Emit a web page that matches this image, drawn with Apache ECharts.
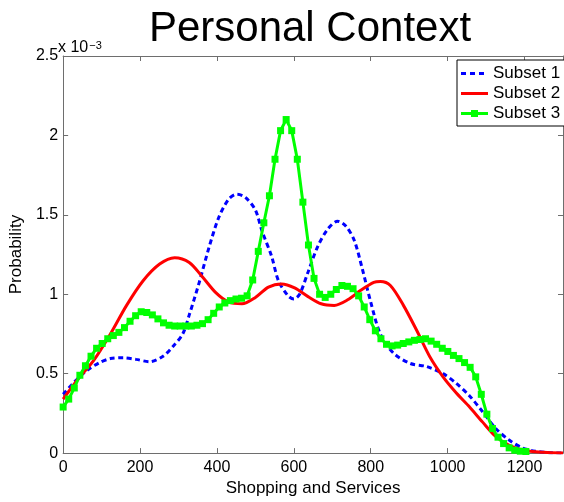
<!DOCTYPE html>
<html>
<head>
<meta charset="utf-8">
<script src="https://cdn.jsdelivr.net/npm/echarts@6/dist/echarts.min.js"></script>
<style>
html,body{margin:0;padding:0;background:#fff;}
#chart{width:564px;height:502px;}
</style>
</head>
<body>
<div id="chart"></div>
<script>
// ---- Data (y values in units of 10^-3) ----
const subset1X = [0, 30, 62, 95, 123, 157, 190, 225, 260, 285, 311, 328, 354, 380, 405, 431, 452, 474, 500, 517, 542, 560, 585, 600, 615, 637, 662, 688, 714, 735, 757, 778, 800, 825, 859, 902, 945, 988, 1022, 1057, 1091, 1125, 1159, 1194, 1228, 1260, 1300];
const subset1Y = [0.37, 0.45, 0.52, 0.57, 0.595, 0.60, 0.59, 0.575, 0.61, 0.67, 0.75, 0.87, 1.075, 1.30, 1.485, 1.60, 1.63, 1.61, 1.53, 1.40, 1.24, 1.085, 0.99, 0.97, 1.00, 1.14, 1.30, 1.41, 1.46, 1.43, 1.34, 1.16, 0.95, 0.75, 0.63, 0.565, 0.545, 0.50, 0.44, 0.36, 0.26, 0.155, 0.084, 0.033, 0.012, 0.004, 0.0];

const subset2X = [0, 37, 80, 123, 165, 208, 251, 290, 328, 362, 397, 431, 465, 500, 534, 568, 602, 637, 671, 705, 740, 774, 808, 825, 851, 885, 920, 954, 988, 1022, 1057, 1091, 1125, 1159, 1194, 1250, 1300];
const subset2Y = [0.34, 0.46, 0.585, 0.75, 0.93, 1.085, 1.19, 1.23, 1.20, 1.11, 1.01, 0.95, 0.94, 0.98, 1.045, 1.065, 1.04, 0.985, 0.94, 0.93, 0.965, 1.025, 1.075, 1.08, 1.055, 0.93, 0.77, 0.605, 0.48, 0.38, 0.29, 0.195, 0.105, 0.05, 0.02, 0.005, 0.0];

const subset3X = [0, 14.5, 29, 43.5, 58, 72.5, 87, 101.5, 116, 130.5, 145, 159.5, 174, 188.5, 203, 217.5, 232, 246.5, 261, 275.5, 290, 304.5, 319, 333.5, 348, 362.5, 377, 391.5, 406, 420.5, 435, 449.5, 464, 478.5, 493, 507.5, 522, 536.5, 551, 565.5, 580, 594.5, 609, 623.5, 638, 652.5, 667, 681.5, 696, 710.5, 725, 739.5, 754, 768.5, 783, 797.5, 812, 826.5, 841, 855.5, 870, 884.5, 899, 913.5, 928, 942.5, 957, 971.5, 986, 1000.5, 1015, 1029.5, 1044, 1058.5, 1073, 1087.5, 1102, 1116.5, 1131, 1145.5, 1160, 1174.5, 1189, 1203.5];
const subset3Y = [0.29, 0.34, 0.41, 0.49, 0.55, 0.61, 0.66, 0.69, 0.72, 0.74, 0.76, 0.79, 0.83, 0.865, 0.89, 0.885, 0.87, 0.845, 0.82, 0.805, 0.80, 0.80, 0.80, 0.80, 0.805, 0.815, 0.84, 0.88, 0.92, 0.945, 0.96, 0.97, 0.975, 0.99, 1.09, 1.27, 1.45, 1.62, 1.85, 2.03, 2.10, 2.03, 1.85, 1.58, 1.31, 1.10, 1.00, 0.98, 1.00, 1.03, 1.055, 1.05, 1.035, 0.99, 0.92, 0.84, 0.77, 0.72, 0.685, 0.675, 0.68, 0.69, 0.70, 0.71, 0.715, 0.72, 0.705, 0.685, 0.66, 0.64, 0.615, 0.595, 0.57, 0.54, 0.48, 0.37, 0.245, 0.155, 0.10, 0.06, 0.033, 0.018, 0.012, 0.01];

const seriesNames = ['Subset 1', 'Subset 2', 'Subset 3'];
const xTicks = [0, 200, 400, 600, 800, 1000, 1200];
const xMax = 1300;
const yTicks = [0, 0.5, 1, 1.5, 2, 2.5];

const FONT = '"Liberation Sans", Arial, Helvetica, sans-serif';
const AXIS_COLOR = '#6e6e6e';

function zip(xs, ys) { return xs.map((x, i) => [x, ys[i]]); }

const chart = echarts.init(document.getElementById('chart'), null, {renderer: 'canvas'});

const baseAxis = {
  type: 'value',
  axisLine: {show: true, onZero: false, lineStyle: {color: AXIS_COLOR, width: 1}},
  axisTick: {show: true, inside: true, length: 5, lineStyle: {color: AXIS_COLOR, width: 1}},
  splitLine: {show: false},
};

// legend icons (drawn in a 27x14 box; the leading moves pin the box size)
const ICON_DOTTED = 'path://M0,0M27,14M0,5.5h5v3h-5zM9,5.5h5v3h-5zM18,5.5h5v3h-5z';
const ICON_SOLID = 'path://M0,0M27,14M0,5.5h27v3h-27z';
const ICON_MARKER = 'path://M0,0M27,14M0,5.5h27v3h-27zM10,3.5h7v7h-7z';

const option = {
  animation: false,
  backgroundColor: '#ffffff',
  grid: {left: 59, right: 1, top: 56, bottom: 40, containLabel: false},
  xAxis: [
    Object.assign({}, baseAxis, {
      position: 'bottom', min: xTicks[0], max: xMax, interval: xTicks[1] - xTicks[0],
      axisLabel: {color: '#000', fontSize: 16, margin: 6, fontFamily: FONT, showMaxLabel: false,
                  formatter: v => (xTicks.indexOf(v) >= 0 ? String(v) : '')},
      name: 'Shopping and Services', nameLocation: 'middle', nameGap: 25,
      nameTextStyle: {color: '#000', fontSize: 17, fontFamily: FONT}
    }),
    Object.assign({}, baseAxis, {
      position: 'top', min: xTicks[0], max: xMax, interval: xTicks[1] - xTicks[0],
      axisLabel: {show: false}
    })
  ],
  yAxis: [
    Object.assign({}, baseAxis, {
      position: 'left', min: yTicks[0], max: yTicks[yTicks.length - 1], interval: yTicks[1] - yTicks[0],
      axisLabel: {color: '#000', fontSize: 16, margin: 5, fontFamily: FONT, formatter: v => String(v)},
      name: 'Probability', nameLocation: 'middle', nameGap: 30,
      nameTextStyle: {color: '#000', fontSize: 17, fontFamily: FONT}
    }),
    Object.assign({}, baseAxis, {
      position: 'right', min: yTicks[0], max: yTicks[yTicks.length - 1], interval: yTicks[1] - yTicks[0],
      axisLabel: {show: false}
    })
  ],
  legend: {
    orient: 'vertical', left: 457, top: 60,
    data: [
      {name: seriesNames[0], icon: ICON_DOTTED},
      {name: seriesNames[1], icon: ICON_SOLID},
      {name: seriesNames[2], icon: ICON_MARKER}
    ],
    itemWidth: 27, itemHeight: 14, itemGap: 3,
    padding: [5, 6, 4, 4],
    borderColor: '#000', borderWidth: 1, backgroundColor: '#fff',
    textStyle: {color: '#000', fontSize: 17, fontFamily: FONT}
  },
  graphic: [
    {type: 'text', x: 310, y: 29, style: {text: 'Personal Context', fill: '#000', font: '42px ' + FONT, textAlign: 'center', textVerticalAlign: 'middle'}},
    {type: 'text', x: 58, y: 40, style: {
      text: '{a|x 10}{b|−3}', textVerticalAlign: 'top',
      rich: {a: {fontSize: 16, fontFamily: FONT, fill: '#000', color: '#000', verticalAlign: 'bottom'},
             b: {fontSize: 11, fontFamily: FONT, fill: '#000', color: '#000', verticalAlign: 'top', padding: [0, 0, 0, 1]}}
    }}
  ],
  series: [
    {name: seriesNames[0], type: 'line', data: zip(subset1X, subset1Y), smooth: 0.3, showSymbol: false, symbol: 'none',
     lineStyle: {color: '#0000ff', width: 3, type: [5, 3.5]}, itemStyle: {color: '#0000ff'}, z: 2},
    {name: seriesNames[1], type: 'line', data: zip(subset2X, subset2Y), smooth: 0.3, showSymbol: false, symbol: 'none',
     lineStyle: {color: '#ff0000', width: 3}, itemStyle: {color: '#ff0000'}, z: 3},
    {name: seriesNames[2], type: 'line', data: zip(subset3X, subset3Y), smooth: false, symbol: 'rect', symbolSize: 7, showAllSymbol: true,
     lineStyle: {color: '#00ff00', width: 3}, itemStyle: {color: '#00ff00'}, z: 4}
  ]
};
chart.setOption(option);
</script>
</body>
</html>
